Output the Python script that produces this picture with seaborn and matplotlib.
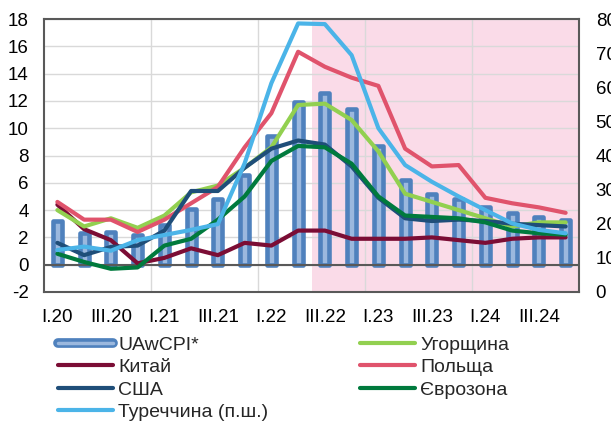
import numpy as np
import pandas as pd
import matplotlib
matplotlib.use("Agg")
import matplotlib.pyplot as plt
from matplotlib.lines import Line2D
from matplotlib.ticker import FixedLocator
import seaborn as sns

# -------------------------
# Data (quarterly, % y/y)
# -------------------------
quarters = [
    "I.20", "II.20", "III.20", "IV.20",
    "I.21", "II.21", "III.21", "IV.21",
    "I.22", "II.22", "III.22", "IV.22",
    "I.23", "II.23", "III.23", "IV.23",
    "I.24", "II.24", "III.24", "IV.24",
]
uawcpi = [3.2, 2.3, 2.4, 2.2, 2.9, 4.1, 4.8, 6.6, 9.4, 11.9,
          12.6, 11.4, 8.7, 6.2, 5.2, 4.8, 4.2, 3.8, 3.5, 3.3]
hungary = [4.0, 2.8, 3.4, 2.7, 3.6, 5.3, 5.8, 7.1, 8.6, 11.7,
           11.8, 10.6, 8.3, 5.2, 4.6, 4.0, 3.4, 2.8, 3.1, 3.1]
china = [4.4, 2.6, 1.8, 0.1, 0.5, 1.2, 0.7, 1.6, 1.4, 2.5,
         2.5, 1.9, 1.9, 1.9, 2.0, 1.8, 1.6, 1.9, 2.0, 2.0]
poland = [4.6, 3.3, 3.3, 2.4, 3.3, 4.5, 5.7, 8.6, 11.1, 15.6,
          14.5, 13.7, 13.1, 8.5, 7.2, 7.3, 4.9, 4.5, 4.2, 3.8]
usa = [1.6, 0.7, 1.3, 1.4, 2.5, 5.4, 5.4, 7.1, 8.5, 9.1,
       8.8, 7.2, 4.9, 3.4, 3.2, 3.3, 3.2, 3.0, 2.9, 2.8]
eurozone = [0.8, 0.2, -0.3, -0.2, 1.4, 1.9, 3.3, 5.0, 7.6, 8.7,
            8.6, 7.4, 5.0, 3.6, 3.5, 3.4, 3.1, 2.5, 2.3, 2.2]
turkey = [12.3, 13.3, 12.1, 15.2, 16.7, 18.2, 19.9, 37.7, 61.2, 78.7,
          78.5, 69.4, 48.0, 37.2, 32.3, 28.0, 24.0, 20.1, 18.2, 17.2]

tick_labels = ["I.20", "III.20", "I.21", "III.21", "I.22",
               "III.22", "I.23", "III.23", "I.24", "III.24"]
forecast_start = "III.22"

df = pd.DataFrame({
    "quarter": quarters,
    "pos": np.arange(len(quarters)),
    "UAwCPI*": uawcpi,
    "Угорщина": hungary,
    "Китай": china,
    "Польща": poland,
    "США": usa,
    "Єврозона": eurozone,
    "Туреччина (п.ш.)": turkey,
})

colors = {
    "Китай": "#7b0d35",
    "Угорщина": "#92d050",
    "Польща": "#e0536c",
    "США": "#1f4e79",
    "Єврозона": "#007a3d",
    "Туреччина (п.ш.)": "#4bb4e8",
}
BAR_EDGE = "#4f81bd"
BAR_FILL = "#9bb8de"
FRAME = "#595959"
GRID = "#d9d9d9"
PINK = "#fadbe8"

sns.set_theme(style="white")
plt.rcParams["font.family"] = ["Liberation Sans", "DejaVu Sans"]
plt.rcParams["axes.unicode_minus"] = False


def main():
    fig, ax = plt.subplots(figsize=(6.11, 4.21), dpi=100)
    fig.subplots_adjust(left=44 / 611, right=579 / 611,
                        top=1 - 19 / 421, bottom=1 - 292 / 421)

    # forecast shading
    start = quarters.index(forecast_start) - 0.5
    ax.axvspan(start, len(quarters) - 0.5, color=PINK, lw=0, zorder=0.2)

    # bars
    sns.barplot(data=df, x="pos", y="UAwCPI*", ax=ax, order=list(df["pos"]),
                width=0.33, color=BAR_FILL, saturation=1,
                edgecolor=BAR_EDGE, linewidth=3.3, zorder=2)
    for p in ax.patches:
        p.set_joinstyle("round")

    # lines, left axis
    for name in ["Китай", "Угорщина", "Польща", "США", "Єврозона"]:
        sns.lineplot(data=df, x="pos", y=name, ax=ax, color=colors[name],
                     linewidth=3, legend=False, zorder=3,
                     solid_joinstyle="round", solid_capstyle="round")

    ax.axhline(0, color=FRAME, lw=1.5, zorder=2.5)

    ax.set_xlim(-0.5, len(quarters) - 0.5)
    ax.set_ylim(-2, 18)
    ax.set_yticks(np.arange(-2, 19, 2))
    ax.set_xticks([quarters.index(t) for t in tick_labels])
    ax.set_xticklabels(tick_labels)
    ax.xaxis.set_minor_locator(FixedLocator([3.5, 7.5, 11.5, 15.5]))
    ax.set_xlabel("")
    ax.set_ylabel("")

    ax.set_axisbelow(True)
    ax.grid(axis="y", which="major", color=GRID, lw=1)
    ax.grid(axis="x", which="minor", color=GRID, lw=1)
    ax.tick_params(axis="both", which="both", length=0, labelsize=13.5,
                   colors="black")
    ax.tick_params(axis="y", pad=11)
    ax.tick_params(axis="x", pad=12)
    for s in ax.spines.values():
        s.set_color(FRAME)
        s.set_linewidth(1.5)

    # Turkey, right axis
    ax2 = ax.twinx()
    sns.lineplot(data=df, x="pos", y="Туреччина (п.ш.)", ax=ax2,
                 color=colors["Туреччина (п.ш.)"], linewidth=3, legend=False,
                 solid_joinstyle="round", solid_capstyle="round")
    ax2.set_ylim(0, 80)
    ax2.set_yticks(np.arange(0, 81, 10))
    ax2.set_ylabel("")
    ax2.tick_params(axis="y", length=0, labelsize=13.5, pad=12, colors="black")
    for s in ax2.spines.values():
        s.set_visible(False)
    ax2.grid(False)

    # legend
    bar_handle = (Line2D([], [], color=BAR_EDGE, lw=7, solid_capstyle="round"),
                  Line2D([], [], color=BAR_FILL, lw=2.5))
    names = ["Китай", "США", "Туреччина (п.ш.)", "Угорщина", "Польща", "Єврозона"]
    handles = [bar_handle] + [
        Line2D([], [], color=colors[n], lw=3, solid_capstyle="round") for n in names
    ]
    labels = ["UAwCPI*"] + names
    fig.legend(handles, labels, ncol=2, loc="upper left",
               bbox_to_anchor=(58 / 611, 1 - 336 / 421), frameon=False,
               fontsize=14, handlelength=2.85, handletextpad=0.25,
               columnspacing=4.7, labelspacing=0.25, borderpad=0,
               borderaxespad=0)

    fig.savefig("out.png", dpi=100)
    plt.close(fig)


if __name__ == "__main__":
    main()
